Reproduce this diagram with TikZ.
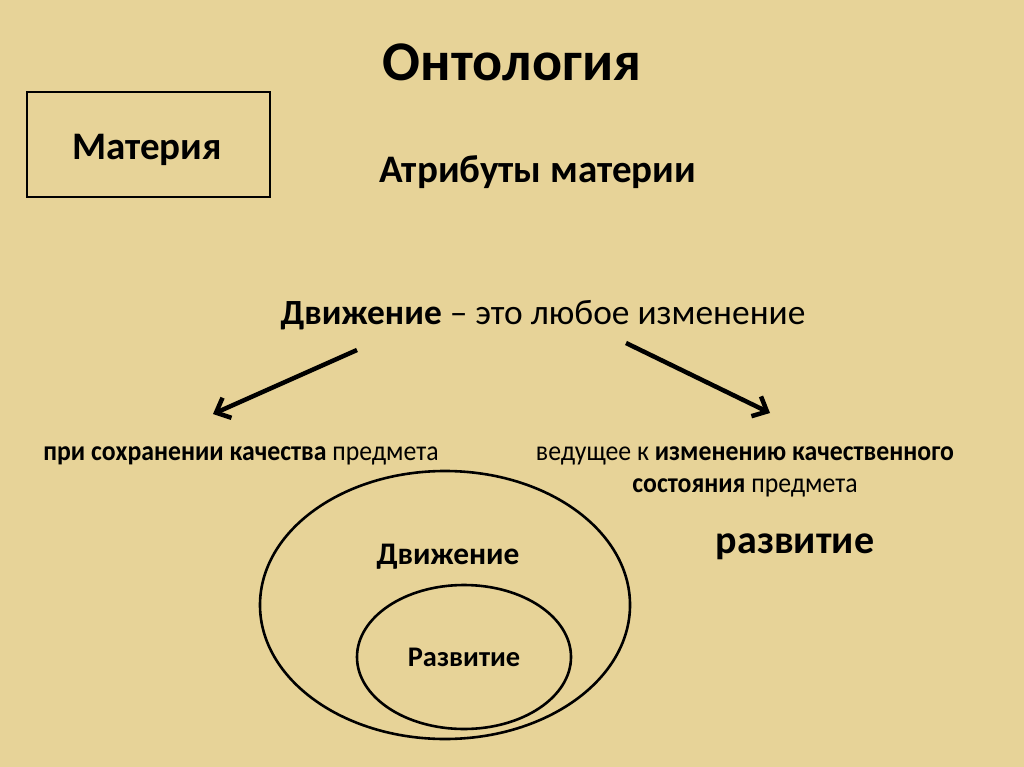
\documentclass[tikz,border=0pt]{standalone}
\usepackage{fontspec}
\setmainfont{Carlito}
\usetikzlibrary{arrows.meta}
\definecolor{paper}{RGB}{231,211,152}
\begin{document}
\begin{tikzpicture}[x=1pt,y=-1pt,
  txt/.style={inner sep=0pt,anchor=center},
  arr/.style={line width=4.5pt,-{Straight Barb[length=12pt,width=22pt,line width=4.5pt]}},
  ring/.style={draw,line width=2.6pt}]
\fill[paper] (0,0) rectangle (1024,767);
\useasboundingbox (0,0) rectangle (1024,767);
\node[txt,font=\fontsize{56}{60}\selectfont\bfseries] (title) at (512,62) {Онтология};
\node[draw,line width=2.6pt,minimum width=243pt,minimum height=105pt,inner sep=0pt] (box) at (148.5,144.5) {};
\node[txt,font=\fontsize{39}{43}\selectfont\bfseries] (mat) at (147,150) {Материя};
\node[txt,font=\fontsize{39}{43}\selectfont\bfseries] (attr) at (538,172) {Атрибуты материи};
\node[txt,font=\fontsize{35.4}{40}\selectfont] (mov) at (543,315) {\textbf{Движение} – это любое изменение};
\coordinate (a1s) at (357,350);
\coordinate (a1e) at (213,414);
\coordinate (a2s) at (626,343);
\coordinate (a2e) at (770,413);
\draw[arr] (a1s) -- (a1e);
\draw[arr] (a2s) -- (a2e);
\node[txt,font=\fontsize{28}{32}\selectfont] (left) at (241,456) {\scalebox{0.92}[1]{\textbf{при сохранении качества} предмета}};
\node[txt,font=\fontsize{28}{32}\selectfont] (right1) at (745,456) {\scalebox{0.92}[1]{ведущее к \textbf{изменению качественного}}};
\node[txt,font=\fontsize{28}{32}\selectfont] (right2) at (745,488) {\scalebox{0.92}[1]{\textbf{состояния} предмета}};
\node[txt,font=\fontsize{40}{44}\selectfont\bfseries] (razv) at (795,547) {развитие};
\draw[ring] (445,605) ellipse [x radius=185, y radius=134];
\node[txt,font=\fontsize{31.4}{35}\selectfont\bfseries] (dv) at (448,557) {Движение};
\draw[ring] (464,657) ellipse [x radius=107, y radius=72];
\node[txt,font=\fontsize{28.4}{32}\selectfont\bfseries] (rz) at (464,657) {Развитие};
\end{tikzpicture}
\end{document}
